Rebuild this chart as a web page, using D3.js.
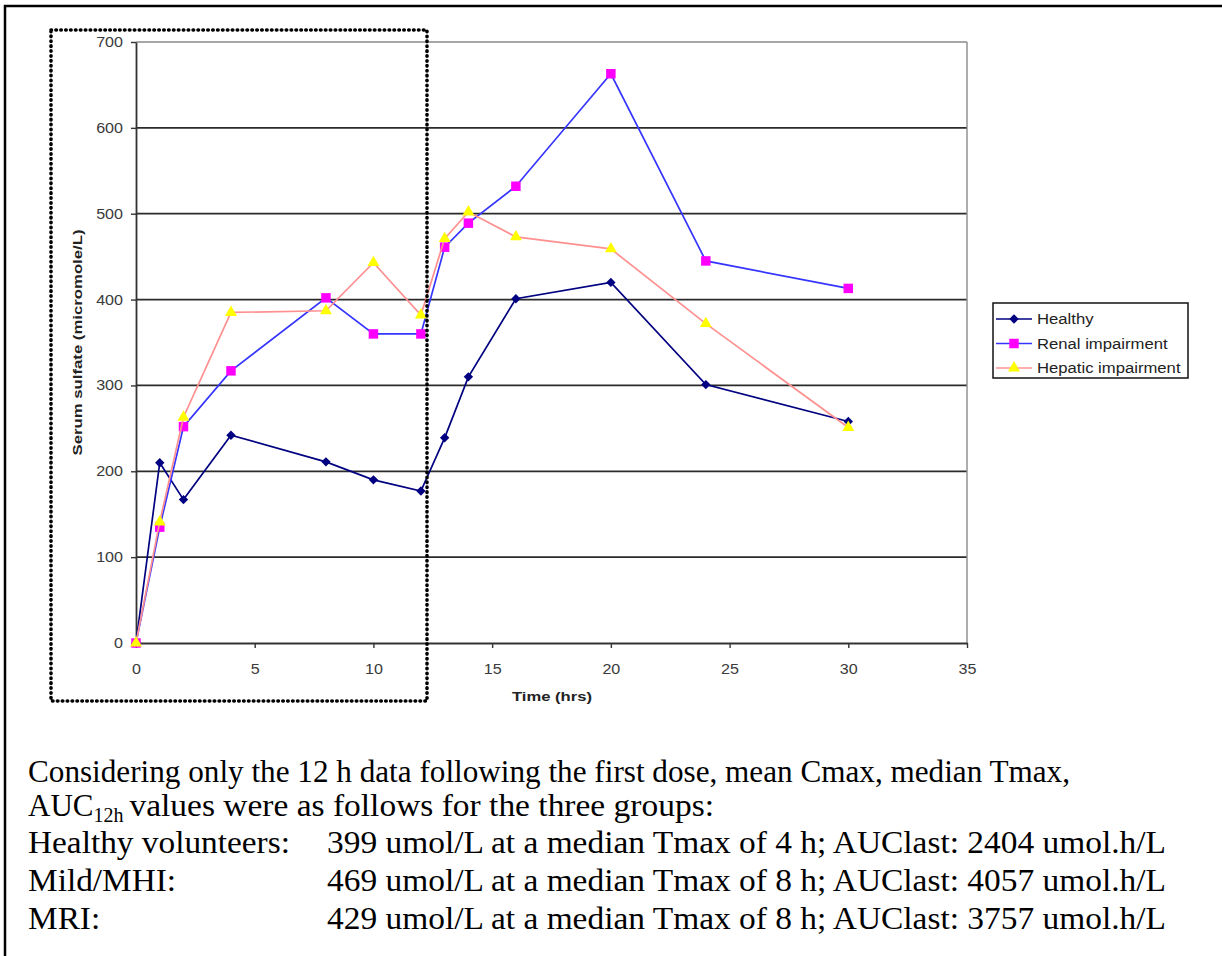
<!DOCTYPE html>
<html>
<head>
<meta charset="utf-8">
<script src="https://cdn.jsdelivr.net/npm/d3@7"></script>
<style>
  html, body { margin: 0; padding: 0; background: #fff; }
  svg { display: block; }
</style>
</head>
<body>
<svg width="1222" height="956"></svg>
<script>
// data
var times = [0, 1, 2, 4, 8, 10, 12, 13, 14, 16, 20, 24, 30];
var healthy = [0, 210, 167, 242, 211, 190, 177, 239, 310, 401, 420, 301, 258];
var renal = [0, 135, 252, 317, 402, 360, 360, 461, 489, 532, 663, 445, 413];
var hepatic = [0, 141, 263, 385, 387, 443, 382, 471, 502, 473, 459, 372, 251];
var seriesNames = ["Healthy", "Renal impairment", "Hepatic impairment"];
var xTicks = [0, 5, 10, 15, 20, 25, 30, 35];
var yTicks = [0, 100, 200, 300, 400, 500, 600, 700];

var svg = d3.select("svg");

var x = d3.scaleLinear().domain([0, 35]).range([136, 967]);
var y = d3.scaleLinear().domain([0, 700]).range([643, 42]);

var sans = "Arial, 'Liberation Sans', sans-serif";
var serif = "'Liberation Serif', 'Times New Roman', serif";

var series = [
    { name: seriesNames[0], values: healthy, line: "#000080", fill: "#000080", shape: "diamond" },
    { name: seriesNames[1], values: renal, line: "#3535ff", fill: "#ff00ff", shape: "square" },
    { name: seriesNames[2], values: hepatic, line: "#ff9090", fill: "#ffff00", shape: "triangle" }
];

// the chart text in the picture is drawn a bit wide, so widen it
function widen(sel, k) {
    sel.each(function () {
        var w = this.getComputedTextLength();
        d3.select(this)
            .attr("textLength", w * k)
            .attr("lengthAdjust", "spacingAndGlyphs");
    });
}

// outer frame (only top + left show)
svg.append("path")
    .attr("d", "M5,956 L5,6 L1222,6")
    .attr("fill", "none")
    .attr("stroke", "#000")
    .attr("stroke-width", 2.5);

//////////// grid and axes ////////////
svg.append("g")
    .selectAll("line")
    .data(yTicks.filter(d => d > 0))
    .enter().append("line")
    .attr("x1", x(0))
    .attr("x2", x(35))
    .attr("y1", d => y(d))
    .attr("y2", d => y(d))
    .attr("stroke", d => d === 700 ? "#8a8a8a" : "#2b2b2b")
    .attr("stroke-width", 1.7);

// right edge of plot area
svg.append("line")
    .attr("x1", x(35)).attr("x2", x(35))
    .attr("y1", y(700)).attr("y2", y(0))
    .attr("stroke", "#8a8a8a")
    .attr("stroke-width", 1.4);

var xAxis = svg.append("g")
    .attr("transform", "translate(0," + y(0) + ")")
    .call(d3.axisBottom(x).tickValues(xTicks).tickSize(5).tickSizeOuter(0).tickPadding(16));

var yAxis = svg.append("g")
    .attr("transform", "translate(" + x(0) + ",0)")
    .call(d3.axisLeft(y).tickValues(yTicks).tickSize(5).tickSizeOuter(0).tickPadding(8));

[xAxis, yAxis].forEach(function (g) {
    g.select(".domain").attr("stroke", "#333").attr("stroke-width", 1.8);
    g.selectAll(".tick line").attr("stroke", "#333").attr("stroke-width", 1.4);
    g.selectAll(".tick text")
        .attr("fill", "#3a3a3a")
        .style("font-family", sans)
        .style("font-size", "14px")
        .call(widen, 1.15);
});

svg.append("text")
    .attr("x", 552)
    .attr("y", 701)
    .attr("text-anchor", "middle")
    .attr("fill", "#222")
    .style("font-family", sans)
    .style("font-size", "13px")
    .style("font-weight", "bold")
    .text("Time (hrs)")
    .attr("textLength", 80)
    .attr("lengthAdjust", "spacingAndGlyphs");

svg.append("text")
    .attr("transform", "translate(82," + ((y(0) + y(700)) / 2) + ") rotate(-90)")
    .attr("text-anchor", "middle")
    .attr("fill", "#222")
    .style("font-family", sans)
    .style("font-size", "13px")
    .style("font-weight", "bold")
    .text("Serum sulfate (micromole/L)")
    .attr("textLength", 226)
    .attr("lengthAdjust", "spacingAndGlyphs");

//////////// series ////////////
function symbolPath(shape) {
    if (shape === "square") return d3.symbol().type(d3.symbolSquare).size(90)();
    if (shape === "triangle") return d3.symbol().type(d3.symbolTriangle).size(62)();
    return d3.symbol().type(d3.symbolSquare).size(44)();
}
function symbolRotate(shape) {
    return shape === "diamond" ? " rotate(45)" : "";
}

var line = d3.line()
    .x(d => x(d[0]))
    .y(d => y(d[1]));

series.forEach(function (s) {
    var pts = times.map((t, i) => [t, s.values[i]]);
    var g = svg.append("g").attr("class", "series");
    g.append("path")
        .datum(pts)
        .attr("d", line)
        .attr("fill", "none")
        .attr("stroke", s.line)
        .attr("stroke-width", 1.7);
    g.selectAll("path.mark")
        .data(pts)
        .enter().append("path")
        .attr("class", "mark")
        .attr("d", symbolPath(s.shape))
        .attr("transform", d => "translate(" + x(d[0]) + "," + y(d[1]) + ")" + symbolRotate(s.shape))
        .attr("fill", s.fill);
});

//////////// legend ////////////
var legend = svg.append("g").attr("transform", "translate(993,303)");
legend.append("rect")
    .attr("width", 195)
    .attr("height", 75)
    .attr("fill", "#fff")
    .attr("stroke", "#111")
    .attr("stroke-width", 1.5);

var item = legend.selectAll("g.item")
    .data(series)
    .enter().append("g")
    .attr("class", "item")
    .attr("transform", (d, i) => "translate(0," + (16 + i * 24.5) + ")");
item.append("line")
    .attr("x1", 3).attr("x2", 39)
    .attr("stroke", d => d.line)
    .attr("stroke-width", 1.7);
item.append("path")
    .attr("d", d => symbolPath(d.shape))
    .attr("transform", d => "translate(21,0)" + symbolRotate(d.shape))
    .attr("fill", d => d.fill);
item.append("text")
    .attr("x", 44)
    .attr("dy", "0.36em")
    .attr("fill", "#222")
    .style("font-family", sans)
    .style("font-size", "14px")
    .text(d => d.name)
    .call(widen, 1.19);

// dotted box round the first 12 h
svg.append("rect")
    .attr("x", 51)
    .attr("y", 30)
    .attr("width", 376)
    .attr("height", 671)
    .attr("fill", "none")
    .attr("stroke", "#000")
    .attr("stroke-width", 3.6)
    .attr("stroke-linecap", "round")
    .attr("stroke-dasharray", "0.5,4.4");

//////////// text below the chart ////////////
function putText(str, px, py, size) {
    return svg.append("text")
        .attr("x", px)
        .attr("y", py)
        .attr("fill", "#000")
        .style("font-family", serif)
        .style("font-size", (size || 31) + "px")
        .text(str);
}

putText("Considering only the 12 h data following the first dose, mean Cmax, median Tmax,", 28, 782)
    .attr("textLength", 1042)
    .attr("lengthAdjust", "spacingAndGlyphs");

var auc = putText("AUC", 28, 816);
var ax = 28 + auc.node().getComputedTextLength();
var sub = putText("12h", ax, 822, 20);
ax += sub.node().getComputedTextLength() + 6;
putText("values were as follows for the three groups:", ax, 816)
    .attr("textLength", 714 - ax)
    .attr("lengthAdjust", "spacingAndGlyphs");

var groupRows = ["Healthy volunteers:", "Mild/MHI:", "MRI:"];
var groupText = [
    "399 umol/L at a median Tmax of 4 h; AUClast: 2404 umol.h/L",
    "469 umol/L at a median Tmax of 8 h; AUClast: 4057 umol.h/L",
    "429 umol/L at a median Tmax of 8 h; AUClast: 3757 umol.h/L"
];
groupRows.forEach(function (r, i) {
    putText(r, 28, 853 + i * 38).call(widen, 1.075);
    putText(groupText[i], 327, 853 + i * 38)
        .attr("textLength", 839)
        .attr("lengthAdjust", "spacingAndGlyphs");
});
</script>
</body>
</html>
